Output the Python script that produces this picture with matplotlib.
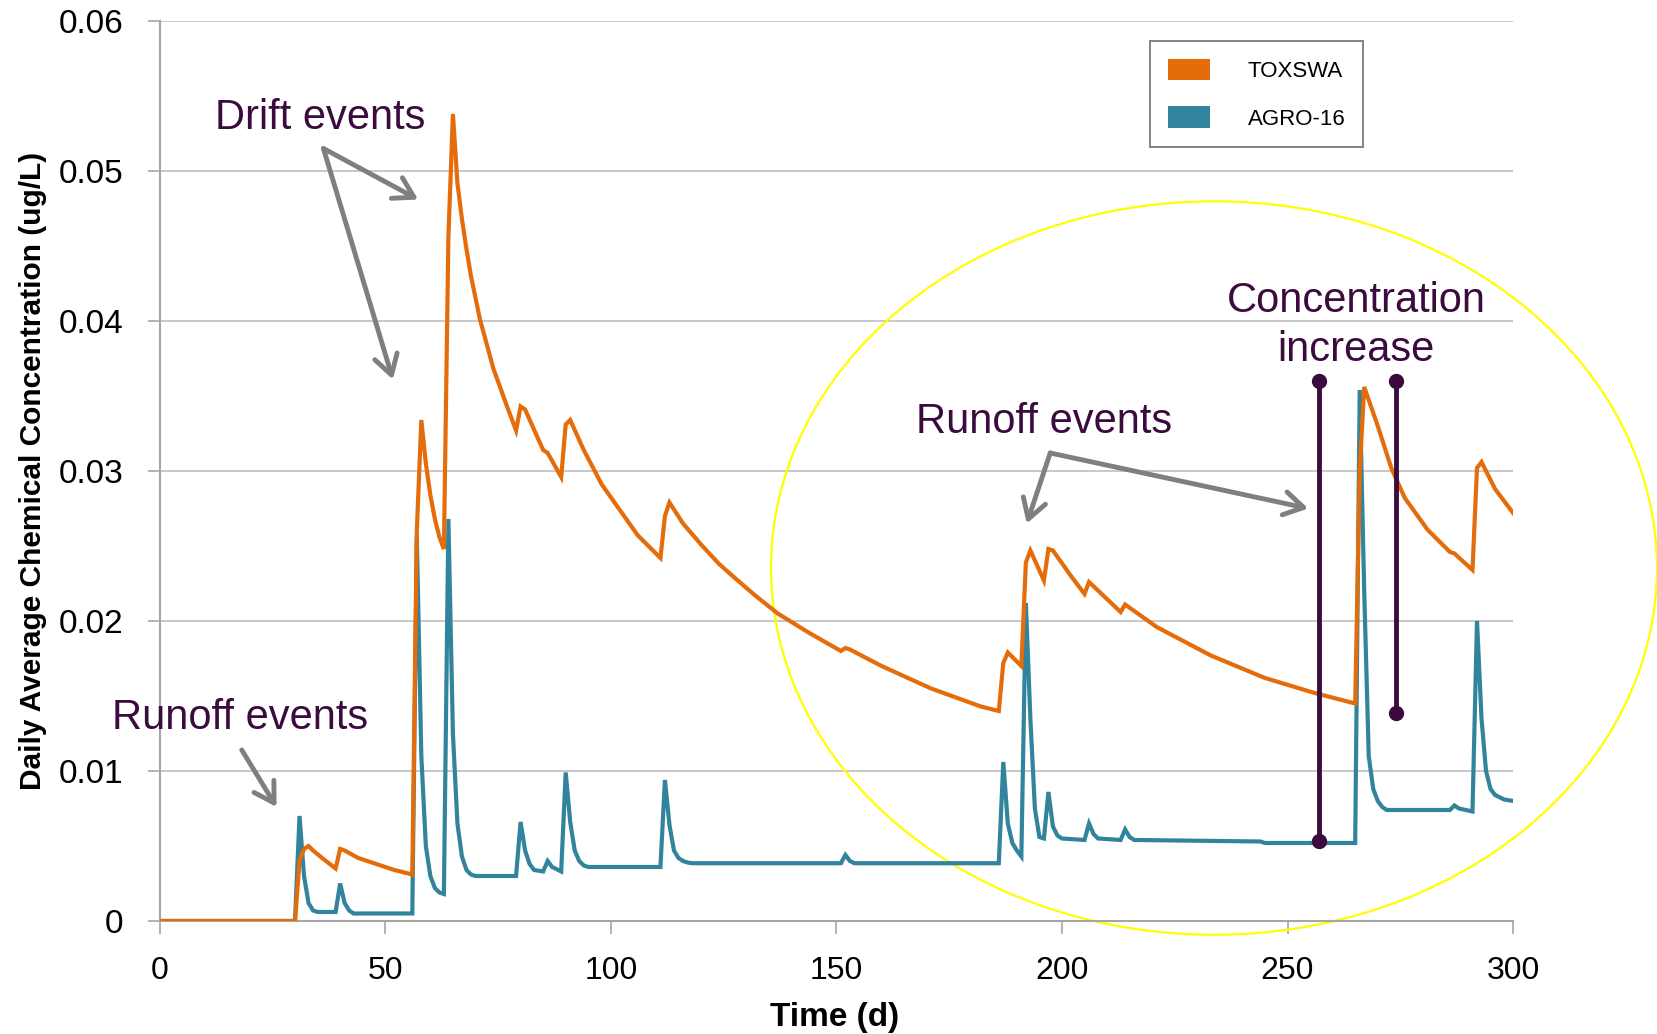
"""
Plot: daily average chemical concentration, TOXSWA vs AGRO-16
"""

import matplotlib
matplotlib.use("Agg")
import matplotlib.pyplot as plt
from matplotlib.patches import Ellipse, Patch

plt.rcParams["font.family"] = ["Liberation Sans", "DejaVu Sans"]

# Data (day, ug/L)
toxswa_day = [0, 30, 31, 32, 33, 34, 36, 39, 40, 41, 44, 48, 52, 56, 57, 58, 59, 60, 61, 62, 63,
              64, 65, 66, 67, 68, 69, 71, 74, 77, 79, 80, 81, 85, 86, 89, 90, 91, 94, 98, 102,
              106, 111, 112, 113, 116, 120, 124, 127, 132, 137, 144, 151, 152, 153, 160, 171,
              182, 186, 187, 188, 191, 192, 193, 196, 197, 198, 202, 205, 206, 213, 214, 221,
              233, 245, 256, 265, 266, 267, 270, 273, 276, 281, 286, 287, 291, 292, 293, 296, 300]
toxswa_conc = [0, 0, 0.0040, 0.0048, 0.0050, 0.0047, 0.0042, 0.0035, 0.0048, 0.0047, 0.0042,
               0.0038, 0.0034, 0.0031, 0.0260, 0.0334, 0.0305, 0.0284, 0.0268, 0.0256, 0.0248,
               0.0456, 0.0538, 0.0492, 0.0468, 0.0448, 0.0430, 0.0401, 0.0368, 0.0343, 0.0327,
               0.0343, 0.0341, 0.0314, 0.0312, 0.0296, 0.0331, 0.0334, 0.0314, 0.0291, 0.0274,
               0.0257, 0.0242, 0.0270, 0.0279, 0.0265, 0.0251, 0.0238, 0.0230, 0.0217, 0.0205,
               0.0192, 0.0180, 0.0182, 0.0181, 0.0170, 0.0155, 0.0143, 0.0140, 0.0172, 0.0179,
               0.0170, 0.0239, 0.0247, 0.0227, 0.0248, 0.0247, 0.0230, 0.0218, 0.0226, 0.0206,
               0.0211, 0.0196, 0.0177, 0.0162, 0.0152, 0.0145, 0.0300, 0.0356, 0.0330, 0.0302,
               0.0282, 0.0261, 0.0246, 0.0245, 0.0234, 0.0302, 0.0306, 0.0288, 0.0272]

agro_day = [0, 30, 31, 32, 33, 34, 35, 39, 40, 41, 42, 43, 56, 57, 58, 59, 60, 61, 62, 63, 64,
            65, 66, 67, 68, 69, 70, 79, 80, 81, 82, 83, 85, 86, 87, 89, 90, 91, 92, 93, 94, 95,
            111, 112, 113, 114, 115, 116, 117, 118, 151, 152, 153, 154, 186, 187, 188, 189, 190,
            191, 192, 193, 194, 195, 196, 197, 198, 199, 200, 205, 206, 207, 208, 213, 214, 215,
            216, 244, 245, 265, 266, 267, 268, 269, 270, 271, 272, 286, 287, 288, 291, 292, 293,
            294, 295, 296, 298, 300]
agro_conc = [0, 0, 0.0070, 0.0030, 0.0012, 0.0007, 0.0006, 0.0006, 0.0025, 0.0012, 0.0007,
             0.0005, 0.0005, 0.0256, 0.0110, 0.0050, 0.0030, 0.0022, 0.0019, 0.0018, 0.0268,
             0.0125, 0.0065, 0.0043, 0.0034, 0.0031, 0.0030, 0.0030, 0.0066, 0.0047, 0.0038,
             0.0034, 0.0033, 0.0040, 0.0036, 0.0033, 0.0099, 0.0066, 0.0047, 0.0040, 0.0037,
             0.0036, 0.0036, 0.0094, 0.0064, 0.0047, 0.0042, 0.0040, 0.0039, 0.00385, 0.00385,
             0.0044, 0.0040, 0.00385, 0.00385, 0.0106, 0.0065, 0.0052, 0.0047, 0.0043, 0.0212,
             0.0135, 0.0075, 0.0056, 0.0055, 0.0086, 0.0063, 0.0057, 0.0055, 0.0054, 0.0065,
             0.0058, 0.0055, 0.0054, 0.0061, 0.0056, 0.0054, 0.0053, 0.0052, 0.0052, 0.0354,
             0.0220, 0.0110, 0.0088, 0.0080, 0.0076, 0.0074, 0.0074, 0.0077, 0.0075, 0.0073,
             0.0200, 0.0135, 0.0100, 0.0088, 0.0084, 0.0081, 0.0080]

x_ticks = [0, 50, 100, 150, 200, 250, 300]
y_ticks = [0, 0.01, 0.02, 0.03, 0.04, 0.05, 0.06]
y_tick_labels = ["0", "0.01", "0.02", "0.03", "0.04", "0.05", "0.06"]

ORANGE = "#E46C0A"
TEAL = "#31849B"
PURPLE = "#3B0B3E"
ARROW = "#7F7F7F"
GRID = "#BFBFBF"

fig = plt.figure(figsize=(16.58, 10.34), dpi=100)
ax = fig.add_axes([0.0963, 0.1093, 0.8163, 0.8704])

ax.plot(agro_day, agro_conc, color=TEAL, lw=3.0, zorder=3, solid_joinstyle="miter")
ax.plot(toxswa_day, toxswa_conc, color=ORANGE, lw=3.0, zorder=4, solid_joinstyle="miter")

ax.set_xlim(0, 300)
ax.set_ylim(0, 0.06)
ax.set_xticks(x_ticks)
ax.set_xticklabels([str(t) for t in x_ticks])
ax.set_yticks(y_ticks)
ax.set_yticklabels(y_tick_labels)
ax.tick_params(axis="x", length=9, width=1.2, color="#A6A6A6", pad=16, labelsize=23)
ax.tick_params(axis="y", length=9, width=1.2, color="#A6A6A6", pad=17, labelsize=24)
ax.yaxis.grid(True, color=GRID, lw=1.2)
ax.set_axisbelow(True)
for s in ["top", "right"]:
    ax.spines[s].set_visible(False)
for s in ["left", "bottom"]:
    ax.spines[s].set_color("#A6A6A6")
    ax.spines[s].set_linewidth(1.5)

ax.set_xlabel("Time (d)", fontsize=24, fontweight="bold")
ax.xaxis.set_label_coords(0.499, -0.107)
ax.xaxis.label.set_va("center")
ax.set_ylabel("Daily Average Chemical Concentration (ug/L)", fontsize=21.5, fontweight="bold")
ax.yaxis.set_label_coords(-0.0936, 0.5)
ax.yaxis.label.set_va("center")

# legend with square patches
handles = [Patch(facecolor=ORANGE, edgecolor="none", label="TOXSWA"),
           Patch(facecolor=TEAL, edgecolor="none", label="AGRO-16")]
leg = fig.legend(handles=handles, loc="upper left", bbox_to_anchor=(0.6936, 0.9603),
                 frameon=True, fancybox=False, fontsize=16, handlelength=1.9,
                 handleheight=1.1, handletextpad=1.7, labelspacing=1.1,
                 borderpad=0.8, borderaxespad=0)
leg.get_frame().set_edgecolor("#595959")
leg.get_frame().set_linewidth(1.3)

# annotations
ann_font = dict(fontsize=30, color=PURPLE)
ax.text(12.3, 0.0528, "Drift events", ha="left", va="baseline", **ann_font)
ax.text(-10.6, 0.0128, "Runoff events", ha="left", va="baseline", clip_on=False, **ann_font)
ax.text(167.6, 0.0325, "Runoff events", ha="left", va="baseline", **ann_font)
ax.text(265.2, 0.0406, "Concentration", ha="center", va="baseline", **ann_font)
ax.text(265.2, 0.0373, "increase", ha="center", va="baseline", **ann_font)

arrow_props = dict(arrowstyle="->,head_length=1.0,head_width=0.6", color=ARROW, lw=3.5,
                   shrinkA=0, shrinkB=0, mutation_scale=14)
for start, end in [((36.3, 0.0515), (57.3, 0.0481)),
                   ((36.3, 0.0515), (51.7, 0.0361)),
                   ((18.2, 0.0114), (25.9, 0.0076)),
                   ((197.4, 0.0312), (192.2, 0.0265)),
                   ((197.4, 0.0312), (254.6, 0.0275))]:
    ax.annotate("", xy=end, xytext=start, arrowprops=arrow_props, zorder=6)

# concentration increase bars
ax.plot([256.9, 256.9], [0.0360, 0.00536], "-o", color=PURPLE, lw=3.5, ms=10, zorder=7)
ax.plot([274.0, 274.0], [0.0360, 0.01389], "-o", color=PURPLE, lw=3.5, ms=10, zorder=7)

# highlight ellipse
ax.add_patch(Ellipse((233.7, 0.02353), 196.4, 0.0489, fill=False, edgecolor="#FFFF00",
                     lw=1.6, clip_on=False, zorder=2))

fig.savefig("out.png", dpi=100)
plt.close(fig)
print("Saved: out.png")
